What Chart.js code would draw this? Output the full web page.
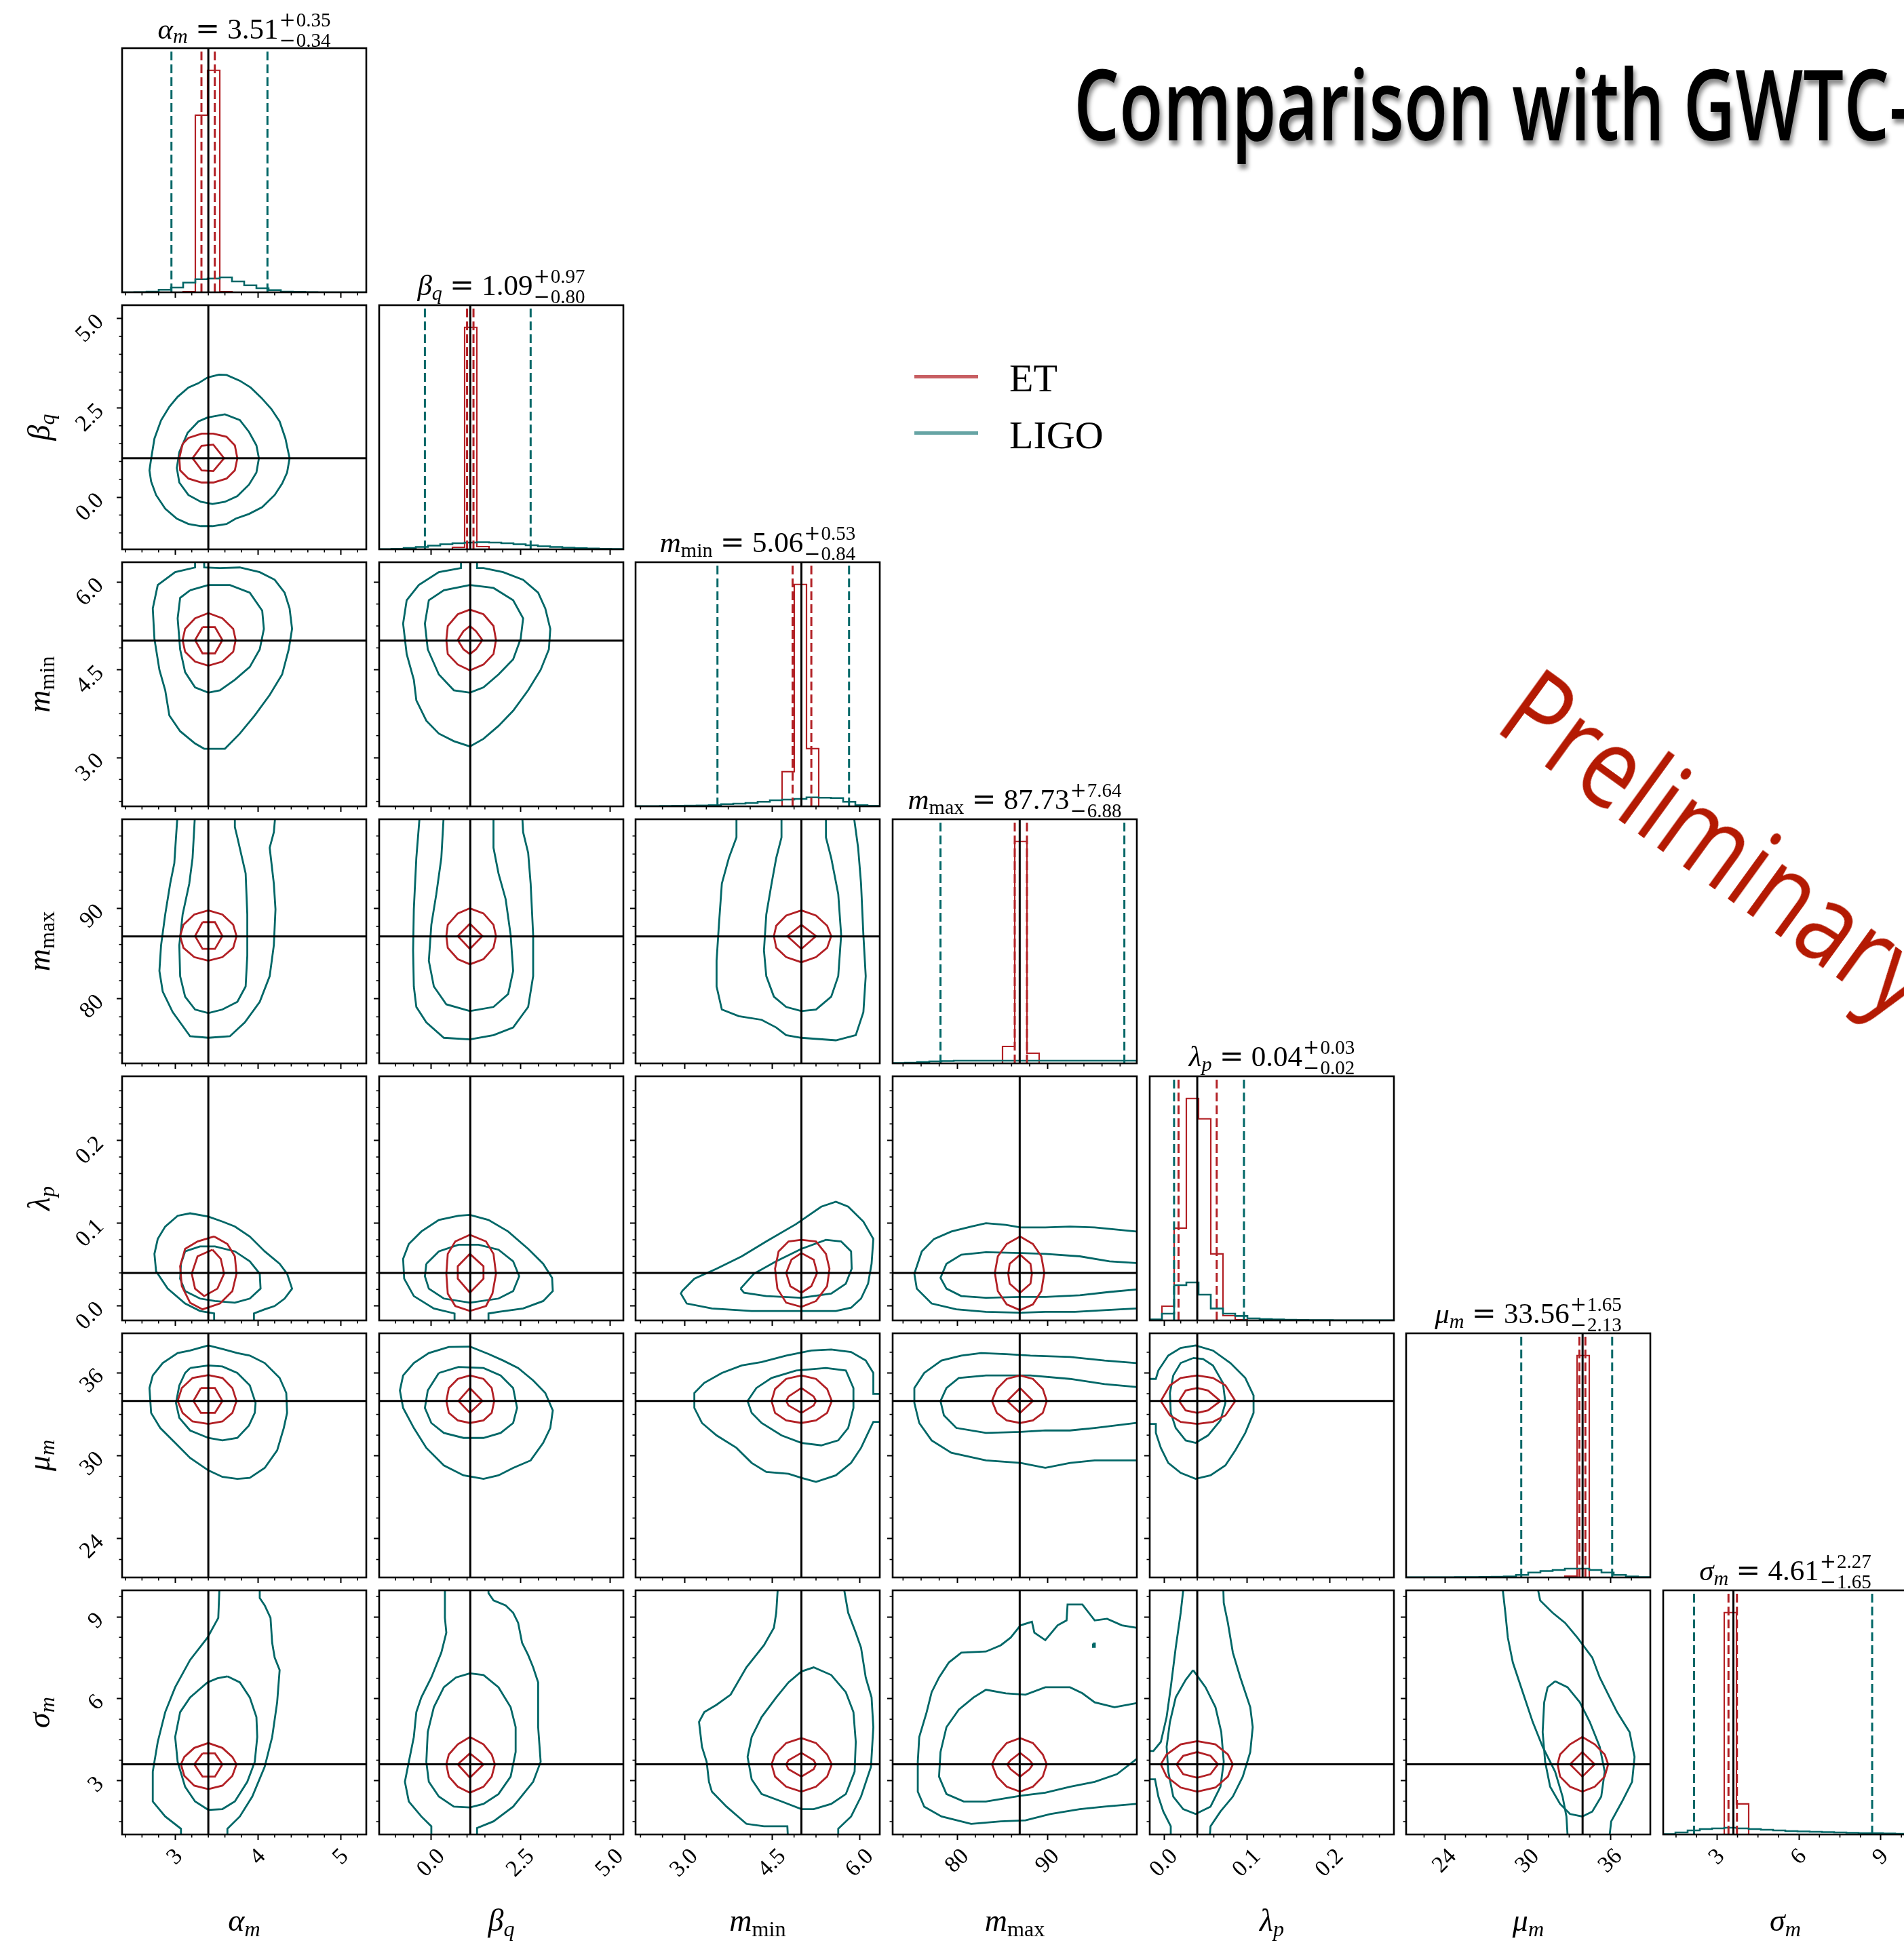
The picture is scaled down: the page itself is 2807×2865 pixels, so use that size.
<!DOCTYPE html>
<html>
<head>
<meta charset="utf-8">
<title>Comparison with GWTC-3</title>
<script src="https://cdn.jsdelivr.net/npm/chart.js@4.4.1/dist/chart.umd.min.js"></script>
<style>
  html, body { margin: 0; padding: 0; background: #fff; }
  #stage { position: relative; width: 2807px; height: 2865px; overflow: hidden; background: #fff; }
  #stage canvas { position: absolute; }
  .txt { position: absolute; white-space: nowrap; color: #000; }
  .math { font-family: 'Liberation Serif', 'DejaVu Serif', serif; }
  .math i { font-style: italic; }
  .math .sb { font-size: 0.7em; position: relative; top: 0.22em; }
  .math .op { font-family: 'DejaVu Serif', serif; margin: 0 0.26em; }
  .math .sg { font-family: 'DejaVu Serif', serif; margin-right: 1px; }
  .math .pm { display: inline-flex; flex-direction: column; font-size: 29px; line-height: 30px; vertical-align: 18px; margin-left: 1px; }
  .headline { font-family: 'Open Sans', 'Noto Sans', sans-serif; font-weight: 600; font-size: 145px; line-height: 145px;
              transform-origin: 0 0; text-shadow: 4px 7px 7px rgba(0,0,0,0.45); }
  .stamp { font-family: 'Open Sans', 'Noto Sans', sans-serif; font-weight: 400; font-size: 165px; line-height: 165px; color: #b41a03; }
  .key { position: absolute; height: 5px; }
</style>
</head>
<body>
<div id="stage"></div>
<script>
// ---------- parameters ----------
const PARAM_SYMBOLS = ['α', 'β', 'm', 'm', 'λ', 'μ', 'σ'];
const PARAM_SUBS    = ['m', 'q', 'min', 'max', 'p', 'm', 'm'];
const RANGE_MIN = [2.36, -1.46, 2.165, 72.85, -0.0174, 21.2, 1.03];
const RANGE_MAX = [5.305, 5.375, 6.34, 99.85, 0.2775, 38.87, 9.97];
const TRUTHS    = [3.40, 1.09, 5.0, 86.9, 0.04, 33.97, 3.6];

const MAJOR_TICKS = [[3, 4, 5], [0, 2.5, 5], [3, 4.5, 6], [80, 90], [0, 0.1, 0.2], [24, 30, 36], [3, 6, 9]];
const TICK_LABELS = [['3', '4', '5'], ['0.0', '2.5', '5.0'], ['3.0', '4.5', '6.0'], ['80', '90'],
                     ['0.0', '0.1', '0.2'], ['24', '30', '36'], ['3', '6', '9']];
const MINOR_STEPS = [0.2, 0.5, 0.375, 2, 0.02, 1.5, 0.75];

// summary shown above each marginal
const TITLE_MEDIAN = ['3.51', '1.09', '5.06', '87.73', '0.04', '33.56', '4.61'];
const TITLE_PLUS   = ['0.35', '0.97', '0.53', '7.64', '0.03', '1.65', '2.27'];
const TITLE_MINUS  = ['0.34', '0.80', '0.84', '6.88', '0.02', '2.13', '1.65'];

// 16th / 84th percentile markers
const Q_ET   = [[3.317, 3.478], [1.0, 1.18], [4.85, 5.17], [86.35, 87.7], [0.0174, 0.0635], [33.74, 34.17], [3.42, 3.73]];
const Q_LIGO = [[2.955, 4.113], [-0.18, 2.78], [3.565, 5.815], [78.14, 98.47], [0.012, 0.0964], [29.53, 36.11], [2.16, 8.68]];

// marginal histograms, 20 bins spanning each parameter range
const HIST_ET = [
  [0, 0, 0, 0, 0, 1, 261, 327, 1, 0, 0, 0, 0, 0, 0, 0, 0, 0, 0, 0],
  [0, 0, 0, 0, 0, 0, 3, 327, 4, 0, 0, 0, 0, 0, 0, 0, 0, 0, 0, 0],
  [0, 0, 0, 0, 0, 0, 0, 0, 0, 0, 0, 0, 51, 327, 85, 0, 0, 0, 0, 0],
  [0, 0, 0, 0, 0, 0, 0, 0, 0, 25, 327, 15, 0, 0, 0, 0, 0, 0, 0, 0],
  [1, 21, 136, 327, 297, 98, 7, 1, 0, 0, 0, 0, 0, 0, 0, 0, 0, 0, 0, 0],
  [0, 0, 0, 0, 0, 0, 0, 0, 0, 0, 0, 0, 0, 2, 327, 0, 0, 0, 0, 0],
  [0, 0, 0, 0, 0, 327, 45, 0, 0, 0, 0, 0, 0, 0, 0, 0, 0, 0, 0, 0]
];
const HIST_LIGO = [
  [0, 0.3, 1, 3.7, 7, 14.3, 19.3, 20.3, 22, 16, 10.3, 6, 3.3, 1, 0.7, 0.3, 0, 0, 0, 0],
  [0.3, 0.8, 2, 3.5, 5.5, 7.5, 9, 10, 10.5, 10, 9, 7.5, 6, 4.5, 3.5, 2.5, 1.8, 1.2, 0.8, 0.5],
  [0.3, 0.3, 0.5, 0.7, 1, 1.3, 1.7, 3.3, 4, 5, 6.7, 9, 10, 11, 13.3, 12.7, 12.3, 6.7, 1.7, 0.7],
  [0.5, 1, 2, 3, 3.5, 4, 4, 4, 4, 4, 4, 4, 4, 4, 4, 4, 4, 4, 4, 4],
  [1.5, 10, 52, 56, 38, 17.6, 10, 6.6, 3, 2, 1.5, 1, 0.7, 0.5, 0.4, 0.3, 0.2, 0.2, 0.1, 0.1],
  [0.2, 0.2, 0.3, 0.3, 0.4, 0.5, 0.7, 1, 1.5, 3.7, 7.3, 9.5, 11, 13, 13, 11, 7.3, 3.7, 1.5, 0.5],
  [0.5, 3, 6, 8, 9, 10, 9, 8, 7, 6, 5, 4.5, 4, 3.5, 3, 2.5, 2, 2, 1.5, 1]
];

// 2D credible contours, keyed "row,col" (y parameter, x parameter); each entry is a closed path
const LIGO_CONTOURS = {
  '1,0': [
    [[3.39,3.35],[3.53,3.43],[3.62,3.42],[3.78,3.26],[3.91,3.07],[4.04,2.78],[4.16,2.47],[4.26,2.12],[4.33,1.64],[4.38,1.09],[4.35,0.69],[4.29,0.38],[4.20,0.06],[4.05,-0.28],[3.89,-0.47],[3.73,-0.60],[3.62,-0.75],[3.45,-0.81],[3.31,-0.81],[3.16,-0.75],[3.02,-0.60],[2.88,-0.32],[2.77,0.06],[2.71,0.44],[2.69,0.75],[2.71,1.07],[2.75,1.64],[2.83,2.15],[2.93,2.53],[3.03,2.81],[3.16,3.07],[3.28,3.19]],
    [[3.39,2.23],[3.60,2.32],[3.78,2.16],[3.89,1.83],[3.98,1.45],[4.01,1.09],[3.98,0.69],[3.89,0.35],[3.75,0.03],[3.60,-0.13],[3.45,-0.19],[3.31,-0.13],[3.16,0.06],[3.05,0.41],[3.02,0.82],[3.05,1.26],[3.15,1.80],[3.28,2.12]]
  ],
  '2,0': [
    [[3.24,6.5],[3.24,6.25],[3.0,6.17],[2.79,5.95],[2.73,5.55],[2.75,5.03],[2.81,4.50],[2.88,4.15],[2.93,3.72],[3.06,3.45],[3.24,3.24],[3.35,3.15],[3.60,3.15],[3.78,3.41],[3.96,3.72],[4.14,4.07],[4.29,4.42],[4.37,4.85],[4.41,5.20],[4.38,5.55],[4.32,5.82],[4.20,6.04],[4.02,6.17],[3.78,6.25],[3.54,6.24],[3.35,6.25],[3.35,6.5]],
    [[3.18,5.86],[3.40,5.95],[3.66,5.95],[3.90,5.82],[4.05,5.51],[4.07,5.20],[4.02,4.85],[3.90,4.55],[3.72,4.33],[3.54,4.15],[3.40,4.11],[3.24,4.20],[3.12,4.46],[3.06,4.85],[3.03,5.38],[3.06,5.73]]
  ],
  '2,1': [
    [[0.83,6.5],[0.83,6.24],[0.21,6.17],[-0.35,5.95],[-0.69,5.69],[-0.79,5.29],[-0.69,4.77],[-0.49,4.33],[-0.42,3.98],[-0.14,3.63],[0.21,3.41],[0.63,3.28],[1.08,3.19],[1.46,3.32],[1.88,3.54],[2.29,3.80],[2.71,4.15],[3.06,4.50],[3.29,4.85],[3.33,5.20],[3.19,5.55],[2.99,5.82],[2.57,6.04],[2.01,6.17],[1.46,6.24],[1.28,6.24],[1.28,6.5]],
    [[1.08,5.95],[1.74,5.90],[2.29,5.69],[2.57,5.38],[2.50,5.03],[2.29,4.68],[1.88,4.42],[1.46,4.20],[1.08,4.11],[0.63,4.15],[0.21,4.42],[-0.10,4.85],[-0.18,5.29],[-0.07,5.69],[0.35,5.86]]
  ],
  '3,0': [
    [[3.03,100.5],[3.01,97.84],[2.99,95.0],[2.94,92.73],[2.88,89.32],[2.83,85.91],[2.81,83.07],[2.85,80.80],[2.97,78.52],[3.18,75.85],[3.40,75.68],[3.66,75.85],[3.84,77.39],[4.02,79.66],[4.14,82.5],[4.19,85.91],[4.21,89.89],[4.19,92.73],[4.14,96.70],[4.19,98.41],[4.21,100.5]],
    [[3.24,100.5],[3.21,95.57],[3.17,92.73],[3.09,89.32],[3.05,85.91],[3.06,82.5],[3.12,80.23],[3.24,78.81],[3.40,78.41],[3.57,78.81],[3.75,79.66],[3.85,81.36],[3.87,84.77],[3.87,89.32],[3.85,93.86],[3.75,97.84],[3.72,98.98],[3.72,100.5]]
  ],
  '3,1': [
    [[-0.32,100.5],[-0.42,95.57],[-0.49,89.89],[-0.51,85.34],[-0.49,81.36],[-0.42,79.09],[-0.14,77.39],[0.35,75.68],[1.08,75.51],[1.74,75.97],[2.29,76.82],[2.71,79.09],[2.85,82.5],[2.85,87.05],[2.78,92.73],[2.71,96.14],[2.57,98.41],[2.54,100.5]],
    [[0.35,100.5],[0.28,95.57],[0.14,91.59],[0.0,88.18],[-0.07,84.20],[0.07,81.36],[0.42,79.38],[1.08,78.64],[1.74,79.09],[2.15,80.51],[2.29,83.07],[2.22,87.05],[2.08,91.02],[1.88,93.86],[1.74,96.70],[1.74,100.5]]
  ],
  '3,2': [
    [[3.89,100.5],[3.89,97.84],[3.76,95.57],[3.64,92.73],[3.59,88.18],[3.55,84.20],[3.55,81.36],[3.64,78.81],[3.93,78.07],[4.32,77.67],[4.57,76.82],[4.74,75.97],[5.0,75.68],[5.59,75.40],[5.93,75.97],[6.06,78.52],[6.10,82.5],[6.06,87.05],[6.02,92.73],[5.97,96.70],[5.89,100.5]],
    [[4.66,100.5],[4.66,97.84],[4.57,95.57],[4.49,92.73],[4.40,89.32],[4.36,85.34],[4.40,82.5],[4.53,80.23],[4.74,79.09],[5.0,78.64],[5.25,78.81],[5.51,80.23],[5.63,82.5],[5.68,87.05],[5.63,91.59],[5.51,95.57],[5.42,97.84],[5.42,100.5]]
  ],
  '4,0': [
    [[3.47,-0.03],[3.47,-0.009],[3.30,-0.006],[3.12,0.003],[2.91,0.021],[2.77,0.042],[2.75,0.063],[2.79,0.081],[2.88,0.096],[3.03,0.109],[3.18,0.112],[3.40,0.108],[3.57,0.102],[3.72,0.096],[3.90,0.084],[4.08,0.066],[4.26,0.051],[4.35,0.039],[4.41,0.021],[4.32,0.009],[4.20,0.0],[4.08,-0.004],[3.95,-0.009],[3.95,-0.03]],
    [[3.12,0.066],[3.30,0.072],[3.48,0.072],[3.72,0.066],[3.90,0.054],[4.02,0.039],[4.03,0.021],[3.90,0.009],[3.72,0.004],[3.48,0.006],[3.30,0.009],[3.12,0.018],[3.06,0.033],[3.07,0.051]]
  ],
  '4,1': [
    [[0.65,-0.03],[0.65,-0.009],[0.07,-0.003],[-0.49,0.012],[-0.76,0.033],[-0.79,0.057],[-0.63,0.075],[-0.28,0.090],[0.21,0.104],[0.76,0.109],[1.08,0.110],[1.60,0.104],[2.15,0.090],[2.71,0.069],[3.13,0.051],[3.38,0.034],[3.40,0.018],[3.13,0.006],[2.57,-0.003],[1.88,-0.007],[1.60,-0.009],[1.60,-0.03]],
    [[-0.14,0.051],[0.21,0.066],[0.76,0.074],[1.32,0.074],[1.88,0.068],[2.29,0.054],[2.46,0.036],[2.29,0.018],[1.88,0.009],[1.08,0.004],[0.35,0.009],[-0.07,0.021],[-0.18,0.036]]
  ],
  '4,2': [
    [[2.96,0.018],[3.17,0.033],[3.55,0.045],[3.98,0.060],[4.40,0.078],[4.91,0.099],[5.34,0.120],[5.59,0.126],[5.80,0.120],[6.06,0.102],[6.23,0.081],[6.20,0.051],[6.14,0.027],[6.02,0.009],[5.85,-0.002],[5.59,-0.006],[5.0,-0.006],[4.15,-0.006],[3.47,-0.003],[3.04,0.003],[2.94,0.015]],
    [[3.96,0.021],[4.19,0.039],[4.57,0.054],[5.0,0.069],[5.42,0.080],[5.68,0.078],[5.85,0.066],[5.86,0.045],[5.76,0.027],[5.51,0.015],[5.0,0.010],[4.40,0.012],[4.02,0.016]]
  ],
  '4,3': [
    [[101,0.090],[99.78,0.090],[95.19,0.095],[92.46,0.096],[89.73,0.095],[87.0,0.095],[85.36,0.098],[83.17,0.100],[81.53,0.096],[79.34,0.090],[77.43,0.081],[76.07,0.066],[75.25,0.039],[75.52,0.021],[77.16,0.003],[79.89,-0.004],[83.17,-0.007],[87.0,-0.008],[89.73,-0.007],[93.0,-0.007],[96.28,-0.005],[99.78,-0.003],[101,-0.003]],
    [[101,0.052],[99.78,0.052],[96.83,0.054],[93.55,0.060],[89.73,0.063],[87.0,0.064],[83.17,0.065],[80.44,0.062],[78.80,0.051],[78.14,0.034],[78.80,0.021],[80.44,0.012],[83.17,0.010],[87.0,0.011],[89.73,0.011],[93.55,0.013],[96.83,0.017],[99.78,0.020],[101,0.020]]
  ],
  '5,0': [
    [[3.40,37.99],[3.18,37.62],[3.03,37.44],[2.85,36.72],[2.73,35.82],[2.69,34.91],[2.71,33.11],[2.82,32.02],[3.0,30.94],[3.18,29.85],[3.40,28.95],[3.57,28.48],[3.75,28.34],[3.90,28.41],[4.08,29.13],[4.23,30.40],[4.31,32.02],[4.35,33.11],[4.34,34.55],[4.26,35.64],[4.08,36.72],[3.90,37.26],[3.75,37.44],[3.57,37.73]],
    [[3.18,36.36],[3.40,36.54],[3.57,36.47],[3.75,36.0],[3.90,35.10],[3.97,33.83],[3.96,33.11],[3.89,32.20],[3.75,31.30],[3.57,31.12],[3.40,31.30],[3.18,31.84],[3.05,32.75],[3.01,33.83],[3.05,35.10],[3.12,36.0]]
  ],
  '5,1': [
    [[1.08,37.91],[0.49,37.88],[-0.07,37.44],[-0.49,36.72],[-0.79,35.82],[-0.88,34.73],[-0.79,33.47],[-0.49,32.02],[-0.14,30.58],[0.35,29.31],[0.90,28.59],[1.46,28.34],[1.88,28.59],[2.29,29.13],[2.78,29.67],[3.13,30.94],[3.33,32.02],[3.40,33.29],[3.19,34.55],[2.85,35.46],[2.43,36.36],[2.01,36.90],[1.60,37.37]],
    [[0.21,36.0],[0.76,36.43],[1.46,36.36],[1.94,35.82],[2.29,34.91],[2.40,33.47],[2.29,32.38],[1.94,31.66],[1.46,31.30],[0.90,31.30],[0.35,31.66],[0.0,32.38],[-0.18,33.47],[-0.10,34.73]]
  ],
  '5,2': [
    [[6.5,32.46],[6.23,32.46],[6.14,31.66],[6.02,30.58],[5.85,29.49],[5.59,28.59],[5.25,28.12],[5.0,28.41],[4.78,28.70],[4.40,28.84],[4.15,29.49],[3.89,30.58],[3.55,31.48],[3.30,32.38],[3.17,33.47],[3.17,34.55],[3.34,35.28],[3.64,36.0],[3.98,36.54],[4.32,36.79],[4.74,37.26],[5.17,37.62],[5.51,37.70],[5.85,37.52],[6.10,36.90],[6.23,36.0],[6.23,34.48],[6.5,34.48]],
    [[4.08,33.97],[4.23,34.91],[4.49,35.64],[4.91,36.18],[5.42,36.36],[5.76,36.18],[5.89,34.91],[5.89,33.47],[5.80,32.02],[5.63,31.12],[5.34,30.76],[5.0,30.94],[4.66,31.48],[4.32,32.38],[4.15,33.11]]
  ],
  '5,3': [
    [[101,36.72],[99.78,36.72],[96.28,36.90],[92.46,37.16],[88.09,37.26],[85.36,37.37],[82.62,37.44],[80.44,37.26],[78.25,36.90],[76.34,36.0],[75.25,34.91],[75.25,33.83],[75.79,32.38],[77.16,31.12],[79.34,30.22],[83.17,29.67],[87.0,29.49],[89.73,29.13],[92.46,29.49],[95.19,29.67],[99.78,29.67],[101,29.67]],
    [[101,34.99],[99.78,34.99],[96.28,35.20],[92.46,35.57],[88.09,35.82],[83.17,35.82],[80.16,35.64],[78.80,34.91],[78.14,33.97],[78.52,32.93],[79.89,32.02],[83.17,31.66],[87.0,31.73],[89.73,31.84],[92.46,31.84],[95.19,32.02],[99.78,32.38],[101,32.38]]
  ],
  '5,4': [
    [[-0.03,35.57],[-0.010,35.57],[-0.007,36.18],[0.005,37.26],[0.020,37.81],[0.038,37.99],[0.059,37.62],[0.080,36.72],[0.098,35.64],[0.108,34.37],[0.108,33.11],[0.098,31.66],[0.086,30.40],[0.074,29.31],[0.056,28.59],[0.038,28.34],[0.020,28.77],[0.005,29.49],[-0.004,30.58],[-0.010,31.66],[-0.010,32.31],[-0.03,32.31]],
    [[0.035,37.08],[0.020,36.72],[0.011,35.82],[0.007,34.55],[0.008,33.11],[0.014,32.02],[0.026,31.12],[0.038,30.94],[0.053,31.48],[0.068,32.57],[0.074,33.83],[0.071,35.28],[0.059,36.54],[0.047,37.01]]
  ],
  '6,0': [
    [[3.54,10.5],[3.52,8.96],[3.39,8.24],[3.18,7.42],[3.0,6.42],[2.88,5.51],[2.79,4.42],[2.73,3.33],[2.73,2.24],[2.88,1.69],[3.07,1.24],[3.07,0.5],[3.63,0.5],[3.63,1.24],[3.78,1.69],[3.93,2.42],[4.08,3.51],[4.17,4.60],[4.23,5.87],[4.26,7.05],[4.20,7.51],[4.17,8.05],[4.15,8.96],[4.08,9.42],[4.02,9.69],[4.02,10.5]],
    [[3.63,6.82],[3.78,6.60],[3.90,6.05],[3.98,5.33],[3.99,4.60],[3.96,3.69],[3.87,2.96],[3.72,2.24],[3.57,1.96],[3.40,1.93],[3.24,2.24],[3.12,2.78],[3.03,3.69],[3.0,4.60],[3.06,5.51],[3.18,6.05],[3.39,6.60],[3.51,6.75]]
  ],
  '6,1': [
    [[0.38,10.5],[0.38,8.96],[0.42,8.42],[0.28,7.69],[0.0,6.78],[-0.28,6.05],[-0.42,5.51],[-0.49,4.60],[-0.63,3.69],[-0.74,2.96],[-0.63,2.24],[-0.28,1.69],[0.0,1.33],[0.0,0.5],[1.28,0.5],[1.28,1.27],[1.74,1.51],[2.29,2.05],[2.85,2.96],[3.06,3.69],[2.99,4.96],[2.99,6.60],[2.85,7.15],[2.71,7.60],[2.54,8.05],[2.43,8.78],[2.29,9.15],[2.08,9.42],[1.74,9.60],[1.60,9.87],[1.60,10.5]],
    [[1.08,6.93],[1.46,6.87],[1.88,6.42],[2.22,5.69],[2.36,4.96],[2.36,4.05],[2.22,3.15],[1.88,2.51],[1.46,2.15],[1.08,2.02],[0.63,2.05],[0.21,2.42],[-0.07,2.96],[-0.14,3.69],[-0.10,4.78],[0.07,5.69],[0.35,6.42],[0.69,6.78]]
  ],
  '6,2': [
    [[4.61,10.5],[4.57,9.15],[4.53,8.60],[4.36,7.96],[4.06,7.15],[3.79,6.15],[3.55,5.78],[3.34,5.51],[3.25,5.15],[3.30,4.24],[3.38,3.69],[3.42,2.96],[3.47,2.60],[3.72,2.05],[4.06,1.42],[4.36,1.33],[4.76,1.33],[4.78,0.5],[5.63,0.5],[5.63,1.24],[5.85,1.69],[6.02,2.42],[6.19,3.51],[6.23,4.96],[6.20,6.05],[6.10,6.78],[6.02,7.87],[5.93,8.42],[5.80,9.15],[5.69,10.5]],
    [[5.0,7.0],[5.21,7.15],[5.51,6.87],[5.76,6.24],[5.89,5.51],[5.93,4.42],[5.91,3.33],[5.76,2.51],[5.51,2.15],[5.21,1.96],[5.0,1.96],[4.66,2.24],[4.32,2.51],[4.15,3.05],[4.08,3.87],[4.15,4.60],[4.32,5.33],[4.57,6.05],[4.78,6.60]]
  ],
  '6,3': [
    [[101,8.60],[99.78,8.60],[98.20,8.69],[96.56,8.93],[95.19,8.87],[93.83,9.45],[92.19,9.45],[92.08,8.87],[91.09,8.69],[89.73,8.15],[88.52,8.42],[88.25,8.82],[86.99,8.69],[85.90,8.24],[84.81,7.96],[83.17,7.73],[80.44,7.69],[79.07,7.33],[77.98,6.78],[77.16,6.24],[76.61,5.51],[75.79,4.60],[75.63,3.69],[75.63,2.60],[76.34,2.05],[78.25,1.69],[81.53,1.42],[84.81,1.51],[87.54,1.55],[90.27,1.78],[93.55,1.96],[96.28,2.05],[99.78,2.15],[101,2.15]],
    [[95.0,8.02],[95.2,8.02],[95.2,7.9],[95.0,7.9]],
    [[101,5.84],[99.78,5.84],[97.38,5.69],[95.19,5.87],[93.83,6.20],[92.46,6.42],[89.73,6.42],[87.54,6.15],[85.36,6.20],[83.17,6.33],[81.80,6.05],[80.16,5.60],[78.80,4.96],[78.14,4.05],[77.98,3.15],[78.80,2.51],[80.71,2.24],[83.17,2.24],[87.0,2.45],[89.73,2.56],[92.46,2.78],[95.19,2.96],[97.65,3.24],[99.78,3.78],[101,3.78]]
  ],
  '6,4': [
    [[0.023,10.5],[0.023,9.96],[0.020,9.15],[0.014,7.87],[0.008,6.42],[0.003,5.33],[-0.004,4.42],[-0.013,4.09],[-0.03,4.09],[-0.03,3.05],[-0.011,3.05],[-0.007,2.42],[-0.001,1.87],[0.008,1.33],[0.008,0.5],[0.054,0.5],[0.056,1.33],[0.068,1.87],[0.083,2.42],[0.095,3.15],[0.104,4.05],[0.107,4.96],[0.104,5.69],[0.092,6.78],[0.083,7.69],[0.077,8.78],[0.072,9.51],[0.071,10.5]],
    [[0.035,7.05],[0.050,6.42],[0.062,5.69],[0.069,4.78],[0.072,3.69],[0.068,2.78],[0.056,2.05],[0.038,1.78],[0.023,1.96],[0.011,2.42],[0.005,3.33],[0.003,4.24],[0.007,5.15],[0.014,6.05],[0.026,6.69]]
  ],
  '6,5': [
    [[28.20,10.5],[28.20,9.96],[28.38,9.15],[28.56,8.24],[28.92,7.33],[29.64,6.24],[30.36,5.15],[31.08,4.24],[31.98,3.33],[32.52,2.42],[32.80,1.69],[32.88,1.02],[32.88,0.5],[35.93,0.5],[35.93,1.02],[36.04,1.51],[36.83,2.24],[37.55,2.96],[37.73,3.87],[37.37,4.78],[36.47,5.51],[35.93,6.05],[35.21,6.78],[34.67,7.51],[33.59,8.24],[32.70,8.78],[31.80,9.15],[30.90,9.60],[30.54,10.5]],
    [[31.98,6.64],[32.88,6.42],[33.77,5.87],[34.49,5.15],[35.21,4.24],[35.57,3.33],[35.32,2.42],[34.67,1.87],[33.95,1.69],[33.06,1.78],[32.34,2.15],[31.62,2.78],[31.26,3.69],[31.08,4.78],[31.19,5.87],[31.44,6.42]]
  ]
};

const ET_CONTOURS = {
  '1,0': [[[3.09,1.49],[3.16,1.66],[3.32,1.78],[3.46,1.78],[3.62,1.69],[3.72,1.45],[3.75,1.09],[3.72,0.75],[3.62,0.52],[3.46,0.41],[3.32,0.41],[3.16,0.52],[3.06,0.75],[3.05,1.09]],
          [[3.21,1.09],[3.32,1.44],[3.46,1.47],[3.59,1.09],[3.46,0.73],[3.32,0.75]]],
  '2,0': [[[3.40,5.47],[3.57,5.38],[3.70,5.20],[3.73,5.01],[3.70,4.81],[3.57,4.64],[3.40,4.57],[3.24,4.64],[3.12,4.81],[3.09,5.01],[3.12,5.20],[3.24,5.38]],
          [[3.33,5.23],[3.48,5.23],[3.57,5.01],[3.48,4.78],[3.33,4.78],[3.24,5.01]]],
  '2,1': [[[1.08,5.53],[1.46,5.45],[1.74,5.25],[1.81,5.01],[1.74,4.77],[1.46,4.59],[1.08,4.49],[0.74,4.59],[0.46,4.77],[0.42,5.01],[0.46,5.25],[0.74,5.45]],
          [[1.08,5.25],[1.25,5.16],[1.43,5.01],[1.25,4.85],[1.08,4.77],[0.90,4.85],[0.74,5.01],[0.90,5.16]]],
  '3,0': [[[3.40,89.77],[3.57,89.32],[3.70,88.18],[3.74,86.93],[3.70,85.63],[3.57,84.60],[3.40,84.20],[3.23,84.60],[3.10,85.63],[3.06,86.93],[3.10,88.18],[3.23,89.32]],
          [[3.33,88.47],[3.48,88.47],[3.57,86.93],[3.48,85.51],[3.33,85.51],[3.24,86.93]]],
  '3,1': [[[1.08,90.0],[1.46,89.43],[1.74,88.18],[1.81,86.93],[1.74,85.63],[1.46,84.38],[1.08,83.81],[0.74,84.38],[0.46,85.63],[0.42,86.93],[0.46,88.18],[0.74,89.43]],
          [[1.08,88.30],[1.43,86.93],[1.08,85.51],[0.74,86.93]]],
  '3,2': [[[5.0,89.77],[5.25,89.20],[5.44,88.07],[5.51,86.93],[5.44,85.63],[5.25,84.60],[5.0,84.03],[4.74,84.60],[4.57,85.63],[4.53,86.93],[4.57,88.07],[4.74,89.20]],
          [[5.0,88.18],[5.25,86.93],[5.0,85.51],[4.76,86.93]]],
  '4,0': [[[3.47,0.084],[3.63,0.075],[3.72,0.060],[3.74,0.039],[3.69,0.018],[3.54,0.003],[3.33,-0.004],[3.18,0.004],[3.08,0.024],[3.06,0.048],[3.12,0.069],[3.27,0.078]],
          [[3.45,0.068],[3.55,0.057],[3.59,0.039],[3.51,0.021],[3.35,0.012],[3.24,0.021],[3.20,0.039],[3.27,0.060]]],
  '4,1': [[[1.08,0.086],[1.53,0.078],[1.74,0.063],[1.81,0.039],[1.71,0.015],[1.53,0.0],[1.08,-0.006],[0.67,0.0],[0.46,0.015],[0.42,0.039],[0.46,0.063],[0.67,0.078]],
          [[1.08,0.063],[1.46,0.048],[1.46,0.033],[1.08,0.016],[0.74,0.033],[0.74,0.048]]],
  '4,2': [[[5.0,0.080],[5.25,0.078],[5.42,0.063],[5.48,0.045],[5.44,0.024],[5.25,0.006],[5.0,-0.001],[4.74,0.004],[4.59,0.021],[4.55,0.045],[4.61,0.066],[4.78,0.078]],
          [[5.0,0.064],[5.21,0.056],[5.27,0.040],[5.17,0.024],[5.0,0.016],[4.81,0.024],[4.74,0.040],[4.83,0.056]]],
  '4,3': [[[86.94,0.084],[88.36,0.075],[89.29,0.060],[89.62,0.040],[89.29,0.018],[88.36,0.002],[86.94,-0.005],[85.46,0.002],[84.48,0.018],[84.15,0.040],[84.48,0.060],[85.46,0.075]],
          [[86.94,0.062],[88.09,0.051],[88.25,0.039],[88.09,0.027],[86.94,0.016],[85.79,0.027],[85.63,0.039],[85.79,0.051]]],
  '5,0': [[[3.40,35.85],[3.57,35.64],[3.69,34.91],[3.74,33.97],[3.69,33.11],[3.57,32.49],[3.40,32.31],[3.21,32.49],[3.09,33.11],[3.03,33.97],[3.08,34.91],[3.21,35.64]],
          [[3.31,34.91],[3.48,34.91],[3.57,33.97],[3.48,33.11],[3.31,33.11],[3.22,33.97]]],
  '5,1': [[[1.08,35.82],[1.46,35.57],[1.69,34.91],[1.76,33.97],[1.69,33.11],[1.46,32.57],[1.08,32.38],[0.74,32.57],[0.49,33.11],[0.42,33.97],[0.49,34.91],[0.74,35.57]],
          [[1.08,34.91],[1.43,33.97],[1.08,33.11],[0.76,33.97]]],
  '5,2': [[[5.0,35.82],[5.25,35.57],[5.44,34.84],[5.52,33.97],[5.44,33.11],[5.25,32.57],[5.0,32.38],[4.74,32.57],[4.55,33.11],[4.49,33.97],[4.55,34.84],[4.74,35.57]],
          [[5.0,34.91],[5.21,34.30],[5.25,33.97],[5.21,33.65],[5.0,33.11],[4.78,33.65],[4.74,33.97],[4.78,34.30]]],
  '5,3': [[[86.94,35.82],[88.36,35.57],[89.45,34.84],[89.89,33.97],[89.45,33.11],[88.36,32.57],[86.94,32.38],[85.46,32.57],[84.37,33.11],[83.83,33.97],[84.37,34.84],[85.46,35.57]],
          [[86.94,34.91],[88.36,33.97],[86.94,33.11],[85.52,33.97]]],
  '5,4': [[[0.040,35.82],[0.059,35.64],[0.074,35.10],[0.086,33.97],[0.074,32.93],[0.059,32.46],[0.040,32.31],[0.020,32.46],[0.007,32.93],[-0.004,33.97],[0.007,35.10],[0.020,35.64]],
          [[0.040,34.91],[0.053,34.73],[0.068,33.97],[0.053,33.29],[0.040,33.11],[0.026,33.29],[0.018,33.97],[0.026,34.73]]],
  '6,0': [[[3.40,4.38],[3.57,4.20],[3.69,3.87],[3.74,3.60],[3.69,3.18],[3.57,2.82],[3.40,2.69],[3.23,2.82],[3.11,3.18],[3.07,3.60],[3.11,3.87],[3.23,4.20]],
          [[3.33,4.0],[3.48,4.0],[3.57,3.60],[3.48,3.15],[3.33,3.15],[3.23,3.60]]],
  '6,1': [[[1.08,4.60],[1.46,4.33],[1.69,3.96],[1.78,3.60],[1.69,3.15],[1.46,2.78],[1.08,2.56],[0.74,2.78],[0.49,3.15],[0.42,3.60],[0.49,3.96],[0.74,4.33]],
          [[1.08,4.0],[1.46,3.60],[1.08,3.11],[0.74,3.60]]],
  '6,2': [[[5.0,4.56],[5.25,4.38],[5.44,3.96],[5.52,3.60],[5.44,3.15],[5.25,2.78],[5.0,2.60],[4.74,2.78],[4.55,3.15],[4.49,3.60],[4.55,3.96],[4.74,4.38]],
          [[5.0,4.02],[5.21,3.75],[5.25,3.60],[5.21,3.42],[5.0,3.15],[4.78,3.42],[4.74,3.60],[4.78,3.75]]],
  '6,3': [[[86.94,4.56],[88.36,4.38],[89.45,3.96],[89.89,3.60],[89.45,3.15],[88.36,2.78],[86.94,2.60],[85.46,2.78],[84.37,3.15],[83.83,3.60],[84.37,3.96],[85.46,4.38]],
          [[86.94,4.02],[87.98,3.75],[88.36,3.60],[87.98,3.42],[86.94,3.15],[85.90,3.42],[85.52,3.60],[85.90,3.75]]],
  '6,4': [[[0.040,4.45],[0.062,4.33],[0.077,3.96],[0.083,3.60],[0.077,3.15],[0.062,2.75],[0.040,2.60],[0.020,2.75],[0.003,3.15],[-0.004,3.60],[0.003,3.96],[0.020,4.33]],
          [[0.040,4.05],[0.056,3.91],[0.065,3.60],[0.056,3.24],[0.040,3.11],[0.023,3.24],[0.015,3.60],[0.023,3.91]]],
  '6,5': [[[33.95,4.60],[34.85,4.33],[35.57,3.96],[35.82,3.60],[35.57,3.15],[34.85,2.78],[33.95,2.60],[33.06,2.78],[32.34,3.15],[32.16,3.60],[32.34,3.96],[33.06,4.33]],
          [[33.95,4.05],[34.85,3.60],[33.95,3.15],[33.06,3.60]]]
};

// ---------- styling & layout ----------
const N = PARAM_SYMBOLS.length;
const NBINS = 20;
const ET_COLOR = '#b22025';
const LIGO_COLOR = '#006767';
const SERIF = "'Liberation Serif', 'DejaVu Serif', serif";
const PANEL = 360, GRID_X0 = 180, GRID_Y0 = 71, PITCH_X = 378.67, PITCH_Y = 379;
const TICK_FONT = 34;

const stage = document.getElementById('stage');
Chart.defaults.font.family = SERIF;

const measureCtx = document.createElement('canvas').getContext('2d');
function textWidth(s, size) { measureCtx.font = size + 'px ' + SERIF; return measureCtx.measureText(s).width; }

function panelOrigin(r, c) {
  return { left: Math.round(GRID_X0 + c * PITCH_X), top: Math.round(GRID_Y0 + r * PITCH_Y) };
}

function minorValues(i) {
  const step = MINOR_STEPS[i], lo = RANGE_MIN[i], hi = RANGE_MAX[i], m0 = MAJOR_TICKS[i][0];
  const out = [];
  for (let k = Math.ceil((lo - m0) / step - 1e-9); m0 + k * step <= hi + 1e-9; k++) {
    const v = m0 + k * step;
    if (!MAJOR_TICKS[i].some(t => Math.abs(t - v) < step * 1e-3)) out.push(v);
  }
  return out;
}

// frame and minor tick marks on top of the data
const panelFrame = {
  id: 'panelFrame',
  afterDatasetsDraw(chart, args, opts) {
    const { ctx, chartArea: a } = chart;
    ctx.save();
    ctx.strokeStyle = '#000';
    ctx.lineWidth = 1.6;
    const xs = chart.scales.x;
    minorValues(opts.xi).forEach(v => {
      const p = xs.getPixelForValue(v);
      ctx.beginPath(); ctx.moveTo(p, a.bottom); ctx.lineTo(p, a.bottom + 4.5); ctx.stroke();
    });
    if (!opts.diag) {
      const ys = chart.scales.y;
      minorValues(opts.yi).forEach(v => {
        const p = ys.getPixelForValue(v);
        ctx.beginPath(); ctx.moveTo(a.left, p); ctx.lineTo(a.left - 4.5, p); ctx.stroke();
      });
    }
    ctx.lineWidth = 2.6;
    ctx.strokeRect(a.left, a.top, a.right - a.left, a.bottom - a.top);
    ctx.restore();
  }
};

function pathDataset(points, color, width, order, extra) {
  return Object.assign({
    data: points.map(([x, y]) => ({ x, y })),
    showLine: true, borderColor: color, borderWidth: width, pointRadius: 0,
    fill: false, tension: 0, order, clip: 0
  }, extra || {});
}

function closed(poly) { return poly.concat([poly[0]]); }

function histPoints(i, counts) {
  const lo = RANGE_MIN[i], hi = RANGE_MAX[i], w = (hi - lo) / NBINS;
  const pts = [[lo, 0]];
  counts.forEach((v, k) => pts.push([lo + k * w, v]));
  pts.push([hi, counts[NBINS - 1]]);
  pts.push([hi, 0]);
  return pts;
}

// axis with fixed thickness (room for outward ticks and rotated labels)
function axisOptions(i, axis, showLabels, thickness) {
  const horizontal = axis === 'x';
  return {
    type: 'linear', min: RANGE_MIN[i], max: RANGE_MAX[i],
    position: horizontal ? 'bottom' : 'left',
    afterFit(s) {
      if (horizontal) s.height = thickness; else s.width = thickness;
      s.paddingLeft = s.paddingRight = s.paddingTop = s.paddingBottom = 0;
    },
    afterBuildTicks(s) { s.ticks = MAJOR_TICKS[i].map(v => ({ value: v })); },
    grid: { display: true, drawOnChartArea: false, drawTicks: true, tickLength: 8, tickWidth: 2, tickColor: '#000' },
    border: { display: false },
    ticks: {
      display: showLabels, autoSkip: false, minRotation: 45, maxRotation: 45,
      color: '#000', font: { family: SERIF, size: TICK_FONT },
      padding: horizontal ? 5 : 24,
      labelOffset: horizontal ? 0.354 * textWidth(TICK_LABELS[i][0], TICK_FONT) : 0,
      callback: (v, k) => TICK_LABELS[i][k]
    }
  };
}

function buildPanel(r, c) {
  const diag = r === c;
  const o = panelOrigin(r, c);
  const padL = (c === 0 && !diag) ? 150 : 14;
  const padB = (r === N - 1) ? 110 : 14;
  const padT = 4, padR = 4;
  const cv = document.createElement('canvas');
  cv.width = padL + PANEL + padR;
  cv.height = padT + PANEL + padB;
  cv.style.left = (o.left - padL) + 'px';
  cv.style.top = (o.top - padT) + 'px';
  stage.appendChild(cv);

  const datasets = [];
  let yScale;
  if (diag) {
    const ymax = 1.1 * Math.max(...HIST_ET[c], ...HIST_LIGO[c]);
    datasets.push(pathDataset([[TRUTHS[c], 0], [TRUTHS[c], ymax]], '#000', 3, 0));
    Q_ET[c].forEach(q => datasets.push(pathDataset([[q, 0], [q, ymax]], ET_COLOR, 3, 1, { borderDash: [13, 6] })));
    Q_LIGO[c].forEach(q => datasets.push(pathDataset([[q, 0], [q, ymax]], LIGO_COLOR, 3, 1, { borderDash: [13, 6] })));
    datasets.push(pathDataset(histPoints(c, HIST_LIGO[c]), LIGO_COLOR, 2.6, 2, { stepped: 'before' }));
    datasets.push(pathDataset(histPoints(c, HIST_ET[c]), ET_COLOR, 2.2, 3, { stepped: 'before' }));
    yScale = { type: 'linear', display: false, min: 0, max: ymax };
  } else {
    const key = r + ',' + c;
    datasets.push(pathDataset([[TRUTHS[c], RANGE_MIN[r]], [TRUTHS[c], RANGE_MAX[r]]], '#000', 3, 0));
    datasets.push(pathDataset([[RANGE_MIN[c], TRUTHS[r]], [RANGE_MAX[c], TRUTHS[r]]], '#000', 3, 0));
    (ET_CONTOURS[key] || []).forEach(p => datasets.push(pathDataset(closed(p), ET_COLOR, 2.8, 1)));
    (LIGO_CONTOURS[key] || []).forEach(p => datasets.push(pathDataset(closed(p), LIGO_COLOR, 2.8, 2)));
    yScale = axisOptions(r, 'y', c === 0, padL);
  }

  new Chart(cv, {
    type: 'scatter',
    data: { datasets },
    options: {
      responsive: false, animation: false, devicePixelRatio: 1,
      layout: { padding: { left: diag ? padL : 0, right: padR, top: padT, bottom: 0 } },
      plugins: { legend: { display: false }, tooltip: { enabled: false }, panelFrame: { xi: c, yi: r, diag } },
      scales: { x: axisOptions(c, 'x', r === N - 1, padB), y: yScale }
    },
    plugins: [panelFrame]
  });
}

for (let r = 0; r < N; r++) for (let c = 0; c <= r; c++) buildPanel(r, c);

// ---------- text ----------
function addText(html, cls, style) {
  const d = document.createElement('div');
  d.className = 'txt ' + cls;
  d.innerHTML = html;
  Object.assign(d.style, style);
  stage.appendChild(d);
  return d;
}
function symHTML(i) {
  const sub = PARAM_SUBS[i];
  const subHTML = sub.length > 1 ? `<span class="sb">${sub}</span>` : `<span class="sb"><i>${sub}</i></span>`;
  return `<i>${PARAM_SYMBOLS[i]}</i>${subHTML}`;
}
// baseline of Liberation Serif inside a line box of height L
function serifBaseline(size, L) { return (L - 1.107 * size) / 2 + 0.891 * size; }

for (let i = 0; i < N; i++) {
  const o = panelOrigin(i, i);
  const cx = o.left + PANEL / 2;
  // marginal summary
  const html = `${symHTML(i)}<span class="op">=</span>${TITLE_MEDIAN[i]}<span class="pm">` +
               `<span><span class="sg">+</span>${TITLE_PLUS[i]}</span><span><span class="sg">−</span>${TITLE_MINUS[i]}</span></span>`;
  addText(html, 'math', { fontSize: '43px', lineHeight: '100px', left: (cx - 300) + 'px', width: '600px', textAlign: 'center',
                          top: (o.top - 15 - serifBaseline(43, 100)) + 'px' });
  // bottom axis label
  addText(symHTML(i), 'math', { fontSize: '46px', lineHeight: '100px', left: (cx - 200) + 'px', width: '400px', textAlign: 'center',
                                top: (2848 - serifBaseline(46, 100)) + 'px' });
  // left axis label
  if (i > 0) {
    const cy = o.top + PANEL / 2;
    const baseX = 74;
    const bx = baseX - (serifBaseline(46, 100) - 50);
    addText(symHTML(i), 'math', { fontSize: '46px', lineHeight: '100px', left: (bx - 200) + 'px', top: (cy - 50) + 'px',
                                  width: '400px', height: '100px', textAlign: 'center', transform: 'rotate(-90deg)' });
  }
}

// legend
const LEGEND_ITEMS = ['ET', 'LIGO'];
const LEGEND_COLORS = ['rgba(178,32,37,0.72)', 'rgba(0,103,103,0.6)'];
LEGEND_ITEMS.forEach((name, k) => {
  const lineY = 553 + k * 83;
  const key = document.createElement('div');
  key.className = 'key';
  Object.assign(key.style, { left: '1348px', top: lineY + 'px', width: '94px', background: LEGEND_COLORS[k] });
  stage.appendChild(key);
  addText(name, 'math', { fontSize: '58px', lineHeight: '100px', left: '1488px', top: (578 + k * 84 - serifBaseline(58, 100)) + 'px' });
});

// headline and stamp
addText('Comparison with GWTC-3', 'headline', { left: '1583px', top: (207 - 128.8) + 'px', transform: 'scaleX(0.73)' });
addText('Preliminary', 'stamp', { left: '2200px', top: (1074 - 146.5) + 'px', transformOrigin: '0 146.5px',
                                  transform: 'rotate(35.9deg) scaleX(0.84)' });
</script>
</body>
</html>
